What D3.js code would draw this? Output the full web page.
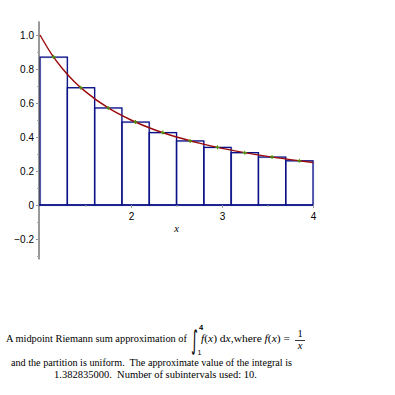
<!DOCTYPE html>
<html><head><meta charset="utf-8">
<script src="https://cdn.jsdelivr.net/npm/d3@7"></script>
<style>body{margin:0;background:#fff}svg{display:block}</style>
</head><body>
<script>
// ---- data ----
const partition = [1.0, 1.3, 1.6, 1.9, 2.2, 2.5, 2.8, 3.1, 3.4, 3.7, 4.0];
const midpoints = [1.15, 1.45, 1.75, 2.05, 2.35, 2.65, 2.95, 3.25, 3.55, 3.85];
const heights = [0.870, 0.690, 0.571, 0.488, 0.426, 0.377, 0.339, 0.308, 0.282, 0.260];
const curveX = [1.0, 1.125, 1.25, 1.375, 1.5, 1.75, 2.0, 2.25, 2.5, 2.75, 3.0, 3.25, 3.5, 3.75, 4.0];
const curveY = [1.0, 0.889, 0.800, 0.727, 0.667, 0.571, 0.500, 0.444, 0.400, 0.364, 0.333, 0.308, 0.286, 0.267, 0.250];
const yMajor = [-0.2, 0, 0.2, 0.4, 0.6, 0.8, 1.0];
const yMinor = [-0.3, -0.1, 0.1, 0.3, 0.5, 0.7, 0.9];
const xMajor = [2, 3, 4];
const xMinor = [1.5, 2.5, 3.5];

const W = 395, H = 395;
const svg = d3.select("body").append("svg").attr("width", W).attr("height", H);
const x = d3.scaleLinear().domain([1, 4]).range([40, 313]);
const y = d3.scaleLinear().domain([0, 1]).range([205, 35]);

// bars
const bars = svg.append("g");
bars.selectAll("rect.halo").data(heights).join("rect")
  .attr("x", (d, i) => x(partition[i]) + 0.5).attr("y", d => y(d) + 0.5)
  .attr("width", (d, i) => x(partition[i + 1]) - x(partition[i]))
  .attr("height", d => y(0) - y(d))
  .attr("fill", "#fff").attr("stroke", "#d6d9ee").attr("stroke-width", 1.5);
bars.selectAll("rect.bar").data(heights).join("rect")
  .attr("x", (d, i) => x(partition[i])).attr("y", d => y(d))
  .attr("width", (d, i) => x(partition[i + 1]) - x(partition[i]))
  .attr("height", d => y(0) - y(d))
  .attr("fill", "none").attr("stroke", "#0b1187").attr("stroke-width", 1.3);

// axes lines
const axisColor = "#333";
svg.append("line").attr("x1", x(1) - 1).attr("x2", x(1) - 1)
  .attr("y1", y(1.08)).attr("y2", y(-0.32)).attr("stroke", axisColor).attr("stroke-width", 1);
svg.append("line").attr("x1", x(1) - 1).attr("x2", x(4))
  .attr("y1", y(0)).attr("y2", y(0)).attr("stroke", "#0b1187").attr("stroke-width", 1.3);

// y axis ticks + labels
const yAx = svg.append("g").attr("transform", `translate(${x(1) - 1},0)`)
  .call(d3.axisLeft(y).tickValues(yMajor).tickSize(3).tickPadding(2)
    .tickFormat(d => d === 0 ? "0" : d3.format(".1f")(d).replace("-", "\u2212")));
yAx.select(".domain").remove();
yAx.selectAll("line").attr("stroke", "#999");
yAx.selectAll("text").attr("font-family", "Liberation Sans, Arial, sans-serif")
  .attr("font-size", 10).attr("fill", "#000");
const yMin = svg.append("g").attr("transform", `translate(${x(1) - 1},0)`)
  .call(d3.axisLeft(y).tickValues(yMinor).tickSize(2).tickFormat(""));
yMin.select(".domain").remove();
yMin.selectAll("line").attr("stroke", "#aaa");

// x axis ticks + labels
const xAx = svg.append("g").attr("transform", `translate(0,${y(0)})`)
  .call(d3.axisBottom(x).tickValues(xMajor).tickSize(3).tickPadding(5).tickFormat(d3.format("d")));
xAx.select(".domain").remove();
xAx.selectAll("line").attr("stroke", "#999");
xAx.selectAll("text").attr("font-family", "Liberation Sans, Arial, sans-serif")
  .attr("font-size", 10).attr("fill", "#000");
const xMin = svg.append("g").attr("transform", `translate(0,${y(0)})`)
  .call(d3.axisBottom(x).tickValues(xMinor).tickSize(2).tickFormat(""));
xMin.select(".domain").remove();
xMin.selectAll("line").attr("stroke", "#aaa");

svg.append("text").attr("x", x(2.5)).attr("y", 232).attr("text-anchor", "middle")
  .attr("font-family", "Liberation Serif, serif").attr("font-style", "italic")
  .attr("font-size", 10.5).text("x");

// curve
const pts = curveX.map((v, i) => [v, curveY[i]]);
svg.append("path").datum(pts)
  .attr("d", d3.line().x(d => x(d[0])).y(d => y(d[1])).curve(d3.curveMonotoneX))
  .attr("fill", "none").attr("stroke", "#9b0a0a").attr("stroke-width", 1.4);

// midpoint markers
const mk = svg.append("g");
midpoints.forEach((m, i) => {
  const cx = x(m), cy = y(heights[i]);
  mk.append("path").attr("d", `M${cx - 2},${cy}H${cx + 2}M${cx},${cy - 2}V${cy + 2}`)
    .attr("stroke", "#4e9a06").attr("stroke-width", 1.1);
});

// caption
const serif = "Liberation Serif, Times New Roman, serif";
const cap = svg.append("g").attr("font-family", serif).attr("font-size", 10.5).attr("fill", "#000");
cap.append("text").attr("x", 6).attr("y", 342).attr("textLength", 181)
  .attr("lengthAdjust", "spacingAndGlyphs").text("A midpoint Riemann sum approximation of");
cap.append("text").attr("transform", "translate(191,349) scale(0.5,1.0)")
  .attr("font-size", 26).attr("font-family", "DejaVu Sans, sans-serif").text("\u222B");
cap.append("text").attr("x", 199).attr("y", 330).attr("font-size", 7.5)
  .attr("font-weight", "bold").attr("font-family", "Liberation Sans, sans-serif").text("4");
cap.append("text").attr("x", 197.5).attr("y", 355).attr("font-size", 7)
  .attr("font-family", "Liberation Sans, sans-serif").text("1");
const fx = cap.append("text").attr("x", 201).attr("y", 342).attr("textLength", 89)
  .attr("lengthAdjust", "spacingAndGlyphs").style("white-space", "pre");
[["f", true], ["(", false], ["x", true], [") d", false], ["x", true], [",where ", false],
 ["f", true], ["(", false], ["x", true], [") =", false]].forEach(([t, it]) => {
  fx.append("tspan").attr("font-style", it ? "italic" : "normal").text(t);
});
cap.append("text").attr("x", 300).attr("y", 337).attr("text-anchor", "middle").text("1");
cap.append("line").attr("x1", 295).attr("x2", 305).attr("y1", 340.5).attr("y2", 340.5)
  .attr("stroke", "#000").attr("stroke-width", 0.8);
cap.append("text").attr("x", 300).attr("y", 349).attr("text-anchor", "middle")
  .attr("font-style", "italic").text("x");
cap.append("text").attr("x", 11).attr("y", 366).attr("textLength", 281)
  .attr("lengthAdjust", "spacingAndGlyphs").style("white-space", "pre")
  .text("and the partition is uniform.  The approximate value of the integral is");
cap.append("text").attr("x", 54).attr("y", 378).attr("textLength", 203)
  .attr("lengthAdjust", "spacingAndGlyphs").style("white-space", "pre")
  .text("1.382835000.  Number of subintervals used: 10.");
</script>
</body></html>
